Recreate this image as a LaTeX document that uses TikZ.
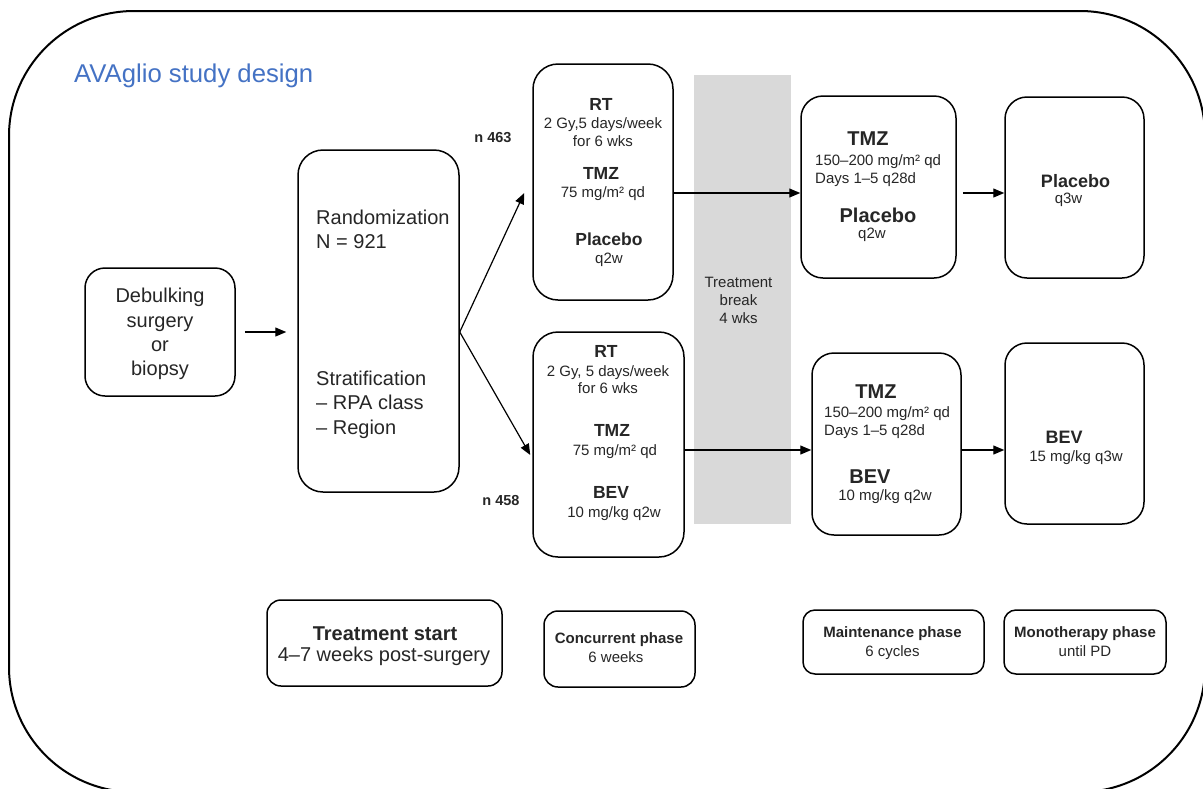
\documentclass[tikz,border=0pt]{standalone}
\usepackage{fontspec}
\setmainfont{Liberation Sans}
\usetikzlibrary{arrows.meta,calc}
\definecolor{txt}{HTML}{262626}
\definecolor{titleblue}{HTML}{4472C4}
\definecolor{band}{HTML}{D9D9D9}
\newcommand{\myfs}[1]{\fontsize{#1}{#1}\selectfont}
\tikzset{
  box/.style={draw=black, line width=1.5pt, rounded corners=22pt, inner sep=0pt},
  smallbox/.style={box, rounded corners=14pt},
  lbl/.style={anchor=base, inner sep=0pt, text=txt},
  lbll/.style={anchor=base west, inner sep=0pt, text=txt},
  big/.style={font=\myfs{20}},
  bigb/.style={font=\bfseries\myfs{20}},
  medb/.style={font=\bfseries\myfs{18}},
  conb/.style={font=\bfseries\myfs{17.5}},
  sm/.style={font=\myfs{15}},
  phb/.style={font=\bfseries\myfs{15}},
  ph/.style={font=\myfs{15}},
  arr/.style={line width=1.2pt, draw=black, -{Triangle[length=11pt,width=9pt]}},
}
\begin{document}
\begin{tikzpicture}[x=1pt,y=-1pt]
\useasboundingbox (0,0) rectangle (1203,788);
\clip (0,0) rectangle (1203,788);
% outer frame
\draw[line width=2pt, rounded corners=125pt] (9,11) rectangle (1205,792);
% title
\node[lbll, text=titleblue, font=\myfs{25.7}] (title) at (74,82) {AVAglio study design};
% treatment break band
\node[fill=band, draw=none, minimum width=97pt, minimum height=449pt, inner sep=0pt] (brk) at (742.5,299.5) {};
\node[lbl, sm] (brk1) at (738.5,287) {Treatment};
\node[lbl, sm] (brk2) at (738.5,305) {break};
\node[lbl, sm] (brk3) at (738.5,323) {4 wks};
% boxes
\node[box, rounded corners=20pt, minimum width=150pt, minimum height=128pt] (deb) at (160,332) {};
\node[box, rounded corners=25pt, minimum width=161pt, minimum height=342pt] (rand) at (378.5,321) {};
\node[box, rounded corners=25pt, minimum width=140pt, minimum height=236pt] (topc) at (603,182) {};
\node[box, rounded corners=25pt, minimum width=151pt, minimum height=225pt] (botc) at (608.5,444.5) {};
\node[box, minimum width=155pt, minimum height=182pt] (mtop) at (878.5,187) {};
\node[box, minimum width=139pt, minimum height=181pt] (montop) at (1074.5,187.5) {};
\node[box, minimum width=149pt, minimum height=182pt] (mbot) at (886.5,444) {};
\node[box, minimum width=139pt, minimum height=181pt] (monbot) at (1074.5,433.5) {};
\node[smallbox, minimum width=235pt, minimum height=86pt] (ts) at (384.5,643) {};
\node[smallbox, minimum width=151pt, minimum height=76pt] (cp) at (619.5,649) {};
\node[smallbox, rounded corners=12pt, minimum width=181pt, minimum height=64pt] (mp) at (893.5,642) {};
\node[smallbox, rounded corners=12pt, minimum width=162pt, minimum height=64pt] (mo) at (1085,642) {};
% debulking text
\node[lbl, big] (d1) at (160,302) {Debulking};
\node[lbl, big] (d2) at (160,327) {surgery};
\node[lbl, big] (d3) at (160,351) {or};
\node[lbl, big] (d4) at (160,375) {biopsy};
% randomization text
\node[lbll, big] (r1) at (316,224) {Randomization};
\node[lbll, big] (r2) at (316,248) {N = 921};
\node[lbll, big] (r3) at (316,385) {Stratification};
\node[lbll, big] (r4) at (316,409) {– RPA class};
\node[lbll, big] (r5) at (316,434) {– Region};
% n labels
\node[lbl, font=\bfseries\myfs{14.5}] (n1) at (493,142) {n 463};
\node[lbl, font=\bfseries\myfs{14.5}] (n2) at (501,505) {n 458};
% concurrent top
\node[lbl, conb] (t1) at (601,110) {RT};
\node[lbl, sm] (t2) at (603,128) {2 Gy,5 days/week};
\node[lbl, sm] (t3) at (603,146) {for 6 wks};
\node[lbl, conb] (t4) at (601,179) {TMZ};
\node[lbl, sm] (t5) at (603,197) {75 mg/m² qd};
\node[lbl, conb] (t6) at (609,245) {Placebo};
\node[lbl, sm] (t7) at (609,263) {q2w};
% concurrent bottom
\node[lbl, conb] (b1) at (606,357) {RT};
\node[lbl, sm] (b2) at (608,376) {2 Gy, 5 days/week};
\node[lbl, sm] (b3) at (608,393) {for 6 wks};
\node[lbl, conb] (b4) at (612,436) {TMZ};
\node[lbl, sm] (b5) at (615,455) {75 mg/m² qd};
\node[lbl, conb] (b6) at (611,498) {BEV};
\node[lbl, sm] (b7) at (614,517) {10 mg/kg q2w};
% maintenance top
\node[lbl, bigb] (m1) at (868,145) {TMZ};
\node[lbll, sm] (m2) at (815,165) {150–200 mg/m² qd};
\node[lbll, sm] (m3) at (815,183) {Days 1–5 q28d};
\node[lbl, bigb] (m4) at (878,222) {Placebo};
\node[lbl, sm] (m5) at (872,238) {q2w};
% monotherapy top
\node[lbl, medb] (o1) at (1075.5,187) {Placebo};
\node[lbl, ph] (o2) at (1068.5,203) {q3w};
% maintenance bottom
\node[lbl, bigb] (mb1) at (876,398) {TMZ};
\node[lbll, sm] (mb2) at (824,417) {150–200 mg/m² qd};
\node[lbll, sm] (mb3) at (824,435) {Days 1–5 q28d};
\node[lbl, bigb] (mb4) at (870,483) {BEV};
\node[lbl, sm] (mb5) at (885,500) {10 mg/kg q2w};
% monotherapy bottom
\node[lbl, medb] (ob1) at (1064,443) {BEV};
\node[lbl, sm] (ob2) at (1076,461) {15 mg/kg q3w};
% phase boxes text
\node[lbl, bigb] (ts1) at (385,640) {Treatment start};
\node[lbl, big] (ts2) at (384,661) {4–7 weeks post-surgery};
\node[lbl, phb] (cp1) at (619,643) {Concurrent phase};
\node[lbl, ph] (cp2) at (616,662) {6 weeks};
\node[lbl, phb] (mp1) at (892.5,637) {Maintenance phase};
\node[lbl, ph] (mp2) at (892.5,656) {6 cycles};
\node[lbl, phb] (mo1) at (1085,637) {Monotherapy phase};
\node[lbl, ph] (mo2) at (1085,656) {until PD};
% connectors
\coordinate (ya) at (0,193);
\coordinate (yb) at (0,450);
\draw[arr] ($(deb.east)+(9,0)$) -- ($(rand.west |- deb.east)+(-11,0)$);
\draw[arr] (rand.east |- deb.east) -- ($(topc.west)+(-8,11)$);
\draw[arr] (rand.east |- deb.east) -- ($(botc.west)+(-2,10.5)$);
\draw[arr] (topc.east |- ya) -- (mtop.west |- ya);
\draw[arr] ($(mtop.east |- ya)+(6,0)$) -- (montop.west |- ya);
\draw[arr] (botc.east |- yb) -- (mbot.west |- yb);
\draw[arr] (mbot.east |- yb) -- (monbot.west |- yb);
\end{tikzpicture}
\end{document}
